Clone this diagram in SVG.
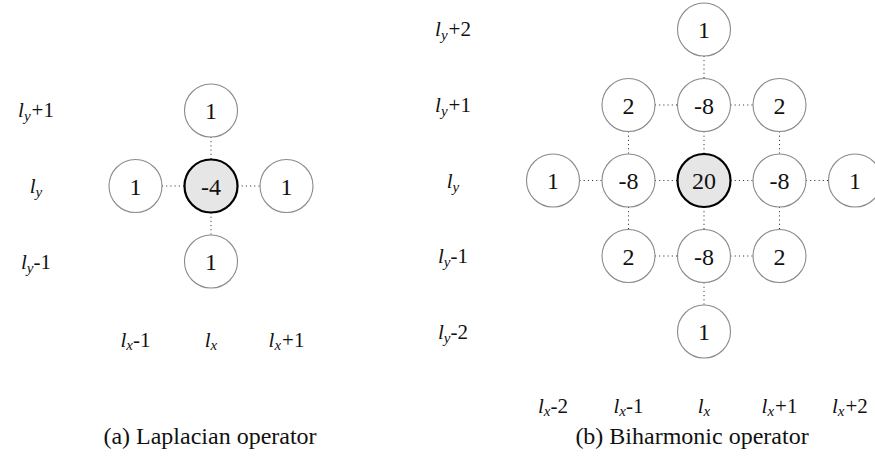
<svg xmlns="http://www.w3.org/2000/svg" width="875" height="470" viewBox="0 0 875 470">
<style>
.n{fill:#fff;stroke:#8a8a8a;stroke-width:1.1}
.c{fill:#e6e6e6;stroke:#000;stroke-width:2.2}
.v{font-size:24px;text-anchor:middle;fill:#111}
.lab{font-size:21px;text-anchor:middle;fill:#111}
.it{font-style:italic}
.sub{font-style:italic;font-size:15px}
.cap{font-size:24px;text-anchor:middle;fill:#111}
.e{stroke:#222;stroke-width:1;stroke-dasharray:1 3.2;fill:none}
</style>
<rect width="875" height="470" fill="#fff"/>
<g font-family="Liberation Serif, DejaVu Serif, serif">
<!-- connectors -->
<g id="connectors">
  <line class="e" x1="211" y1="137" x2="211" y2="159.5"/>
  <line class="e" x1="211" y1="212.5" x2="211" y2="235"/>
  <line class="e" x1="162" y1="186" x2="184.5" y2="186"/>
  <line class="e" x1="237.5" y1="186" x2="260" y2="186"/>
  <line class="e" x1="704" y1="56" x2="704" y2="78.5"/>
  <line class="e" x1="628.5" y1="131.5" x2="628.5" y2="154"/>
  <line class="e" x1="704" y1="131.5" x2="704" y2="154"/>
  <line class="e" x1="779.5" y1="131.5" x2="779.5" y2="154"/>
  <line class="e" x1="628.5" y1="207" x2="628.5" y2="229.5"/>
  <line class="e" x1="704" y1="207" x2="704" y2="229.5"/>
  <line class="e" x1="779.5" y1="207" x2="779.5" y2="229.5"/>
  <line class="e" x1="704" y1="282.5" x2="704" y2="305"/>
  <line class="e" x1="655" y1="105" x2="677.5" y2="105"/>
  <line class="e" x1="730.5" y1="105" x2="753" y2="105"/>
  <line class="e" x1="579.5" y1="180.5" x2="602" y2="180.5"/>
  <line class="e" x1="655" y1="180.5" x2="677.5" y2="180.5"/>
  <line class="e" x1="730.5" y1="180.5" x2="753" y2="180.5"/>
  <line class="e" x1="806" y1="180.5" x2="828.5" y2="180.5"/>
  <line class="e" x1="655" y1="256" x2="677.5" y2="256"/>
  <line class="e" x1="730.5" y1="256" x2="753" y2="256"/>
</g>

<!-- Laplacian nodes -->
<g id="lap-top"><circle class="n" cx="211" cy="110.5" r="26.5"/><text class="v" x="211" y="119">1</text></g>
<g id="lap-left"><circle class="n" cx="135.5" cy="186" r="26.5"/><text class="v" x="135.5" y="194.5">1</text></g>
<g id="lap-center"><circle class="c" cx="211" cy="186" r="26.5"/><text class="v" x="211" y="194.5">-4</text></g>
<g id="lap-right"><circle class="n" cx="286.5" cy="186" r="26.5"/><text class="v" x="286.5" y="194.5">1</text></g>
<g id="lap-bottom"><circle class="n" cx="211" cy="261.5" r="26.5"/><text class="v" x="211" y="270">1</text></g>

<!-- Laplacian labels -->
<g id="lap-labels">
  <text class="lab" x="36" y="117"><tspan class="it">l</tspan><tspan class="sub" dy="4">y</tspan><tspan dy="-4" dx="1">+1</tspan></text>
  <text class="lab" x="36" y="193"><tspan class="it">l</tspan><tspan class="sub" dy="4">y</tspan></text>
  <text class="lab" x="36" y="269"><tspan class="it">l</tspan><tspan class="sub" dy="4">y</tspan><tspan dy="-4">-1</tspan></text>
  <text class="lab" x="135.5" y="347"><tspan class="it">l</tspan><tspan class="sub" dy="3">x</tspan><tspan dy="-3">-1</tspan></text>
  <text class="lab" x="211" y="347"><tspan class="it">l</tspan><tspan class="sub" dy="3">x</tspan></text>
  <text class="lab" x="286.5" y="347"><tspan class="it">l</tspan><tspan class="sub" dy="3">x</tspan><tspan dy="-3" dx="1">+1</tspan></text>
</g>

<!-- Biharmonic nodes -->
<g id="bi-r0c2"><circle class="n" cx="704" cy="29.5" r="26.5"/><text class="v" x="704" y="38">1</text></g>
<g id="bi-r1c1"><circle class="n" cx="628.5" cy="105" r="26.5"/><text class="v" x="628.5" y="113.5">2</text></g>
<g id="bi-r1c2"><circle class="n" cx="704" cy="105" r="26.5"/><text class="v" x="704" y="113.5">-8</text></g>
<g id="bi-r1c3"><circle class="n" cx="779.5" cy="105" r="26.5"/><text class="v" x="779.5" y="113.5">2</text></g>
<g id="bi-r2c0"><circle class="n" cx="553" cy="180.5" r="26.5"/><text class="v" x="553" y="189">1</text></g>
<g id="bi-r2c1"><circle class="n" cx="628.5" cy="180.5" r="26.5"/><text class="v" x="628.5" y="189">-8</text></g>
<g id="bi-r2c2"><circle class="c" cx="704" cy="180.5" r="26.5"/><text class="v" x="704" y="189">20</text></g>
<g id="bi-r2c3"><circle class="n" cx="779.5" cy="180.5" r="26.5"/><text class="v" x="779.5" y="189">-8</text></g>
<g id="bi-r2c4"><circle class="n" cx="855" cy="180.5" r="26.5"/><text class="v" x="855" y="189">1</text></g>
<g id="bi-r3c1"><circle class="n" cx="628.5" cy="256" r="26.5"/><text class="v" x="628.5" y="264.5">2</text></g>
<g id="bi-r3c2"><circle class="n" cx="704" cy="256" r="26.5"/><text class="v" x="704" y="264.5">-8</text></g>
<g id="bi-r3c3"><circle class="n" cx="779.5" cy="256" r="26.5"/><text class="v" x="779.5" y="264.5">2</text></g>
<g id="bi-r4c2"><circle class="n" cx="704" cy="331.5" r="26.5"/><text class="v" x="704" y="340">1</text></g>

<!-- Biharmonic labels -->
<g id="bi-labels">
  <text class="lab" x="453" y="36"><tspan class="it">l</tspan><tspan class="sub" dy="4">y</tspan><tspan dy="-4" dx="1">+2</tspan></text>
  <text class="lab" x="453" y="112"><tspan class="it">l</tspan><tspan class="sub" dy="4">y</tspan><tspan dy="-4" dx="1">+1</tspan></text>
  <text class="lab" x="453" y="187.5"><tspan class="it">l</tspan><tspan class="sub" dy="4">y</tspan></text>
  <text class="lab" x="453" y="263"><tspan class="it">l</tspan><tspan class="sub" dy="4">y</tspan><tspan dy="-4">-1</tspan></text>
  <text class="lab" x="453" y="338.5"><tspan class="it">l</tspan><tspan class="sub" dy="4">y</tspan><tspan dy="-4">-2</tspan></text>
  <text class="lab" x="553" y="413"><tspan class="it">l</tspan><tspan class="sub" dy="3">x</tspan><tspan dy="-3">-2</tspan></text>
  <text class="lab" x="628.5" y="413"><tspan class="it">l</tspan><tspan class="sub" dy="3">x</tspan><tspan dy="-3">-1</tspan></text>
  <text class="lab" x="704" y="413"><tspan class="it">l</tspan><tspan class="sub" dy="3">x</tspan></text>
  <text class="lab" x="779.5" y="413"><tspan class="it">l</tspan><tspan class="sub" dy="3">x</tspan><tspan dy="-3" dx="1">+1</tspan></text>
  <text class="lab" x="832" y="413" style="text-anchor:start"><tspan class="it">l</tspan><tspan class="sub" dy="3">x</tspan><tspan dy="-3" dx="1">+2</tspan></text>
</g>

<!-- captions -->
<text class="cap" x="210" y="444">(a) Laplacian operator</text>
<text class="cap" x="692" y="444">(b) Biharmonic operator</text>
</g>
</svg>
